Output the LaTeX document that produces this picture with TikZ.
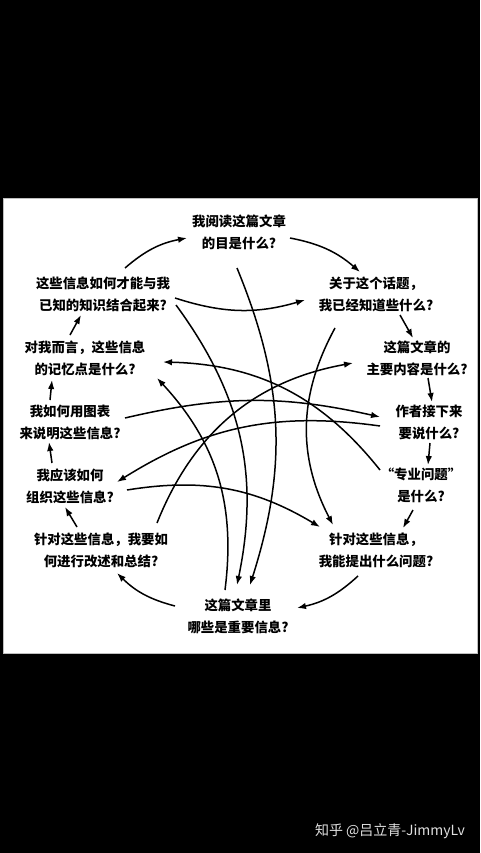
\documentclass[tikz,border=0pt]{standalone}
\usepackage{fontspec}
\setmainfont{Noto Sans CJK SC}
\usetikzlibrary{arrows.meta,calc}

\tikzset{
  ask/.style={font=\fontsize{13.4}{22}\selectfont\bfseries, align=center, inner sep=0pt},
  flow/.style={-{Latex[length=9pt,width=6.5pt]}, line width=1.5pt}
}

\begin{document}
\begin{tikzpicture}[x=1pt,y=-1pt]
\fill[black] (0,0) rectangle (480,853);
\draw[gray!50, line width=0.8pt, fill=white] (3,198) rectangle (477,653);

% the twelve questions, clockwise from the top
\node[ask] (goal) at (239,232.5) {我阅读这篇文章\\的目是什么?};
\node[ask] (known) at (376,294.5) {关于这个话题，\\我已经知道些什么?};
\node[ask] (main) at (417,358.5) {这篇文章的\\主要内容是什么?};
\node[ask] (next) at (429,422.5) {作者接下来\\要说什么?};
\node[ask] (term) at (421,485) {“专业问题”\\是什么?};
\node[ask] (questions) at (376,550) {针对这些信息，\\我能提出什么问题?};
\node[ask] (key) at (238,616) {这篇文章里\\哪些是重要信息?};
\node[ask] (summary) at (101,550) {针对这些信息，我要如\\何进行改述和总结?};
\node[ask] (organize) at (70,486) {我应该如何\\组织这些信息?};
\node[ask] (chart) at (70,422.5) {我如何用图表\\来说明这些信息?};
\node[ask] (memory) at (85,358.5) {对我而言，这些信息\\的记忆点是什么?};
\node[ask] (link) at (103,294) {这些信息如何才能与我\\已知的知识结合起来?};

% outer ring
\draw[flow] ($(link)+(22,-26)$) to[bend left=15] ($(goal)+(-52,5.5)$);
\draw[flow] ($(goal)+(51,5.5)$) to[bend left=15] ($(known)+(-16,-22.5)$);
\draw[flow] ($(known)+(24,20.5)$) -- ($(main)+(-4,-20.5)$);
\draw[flow] ($(main)+(11,19.5)$) -- ($(next)+(3,-20.5)$);
\draw[flow] ($(next)+(1,20.5)$) -- ($(term)+(7,-20)$);
\draw[flow] ($(term)+(-8,25)$) -- ($(questions)+(27,-22)$);
\draw[flow] ($(questions)+(-18,26)$) to[bend left=15] ($(key)+(59,-8)$);
\draw[flow] ($(key)+(-63,-10)$) to[bend left=15] ($(summary)+(16,23)$);
\draw[flow] ($(summary)+(-24,-23)$) -- ($(organize)+(-5,21)$);
\draw[flow] ($(organize)+(-18,-23)$) -- ($(chart)+(-21,19.5)$);
\draw[flow] ($(chart)+(-20,-22.5)$) -- ($(memory)+(-33,21.5)$);
\draw[flow] ($(memory)+(-15,-23.5)$) -- ($(link)+(-22,21)$);

% links across the ring
\draw[flow] ($(link)+(72,4)$) to[bend right=17] ($(known)+(-71,5.5)$);
\draw[flow] ($(link)+(73,11)$) to[bend left=24] ($(key)+(-1,-31)$);
\draw[flow] ($(goal)+(-2,35.5)$) to[bend left=20] ($(key)+(12,-31)$);
\draw[flow] ($(known)+(-41,33.5)$) to[bend right=28] ($(questions)+(-43,-25)$);
\draw[flow] ($(term)+(-41,-15)$) to[bend right=25] ($(memory)+(78,3.5)$);
\draw[flow] ($(summary)+(56,-27)$) to[bend left=29] ($(main)+(-64,4.5)$);
\draw[flow] ($(chart)+(55,-4.5)$) to[bend left=13] ($(next)+(-49,-5.5)$);
\draw[flow] ($(next)+(-49,3.5)$) to[bend right=20] ($(organize)+(47,-4)$);
\draw[flow] ($(organize)+(57,4)$) to[bend left=20] ($(questions)+(-56,-23)$);
\draw[flow] ($(key)+(-13,-26)$) to[bend right=25] ($(memory)+(72,19.5)$);

\node[text=white!88!black, font=\fontsize{14}{16}\selectfont, inner sep=0pt] (mark) at (390,831) {知乎 @吕立青-JimmyLv};
\end{tikzpicture}
\end{document}
